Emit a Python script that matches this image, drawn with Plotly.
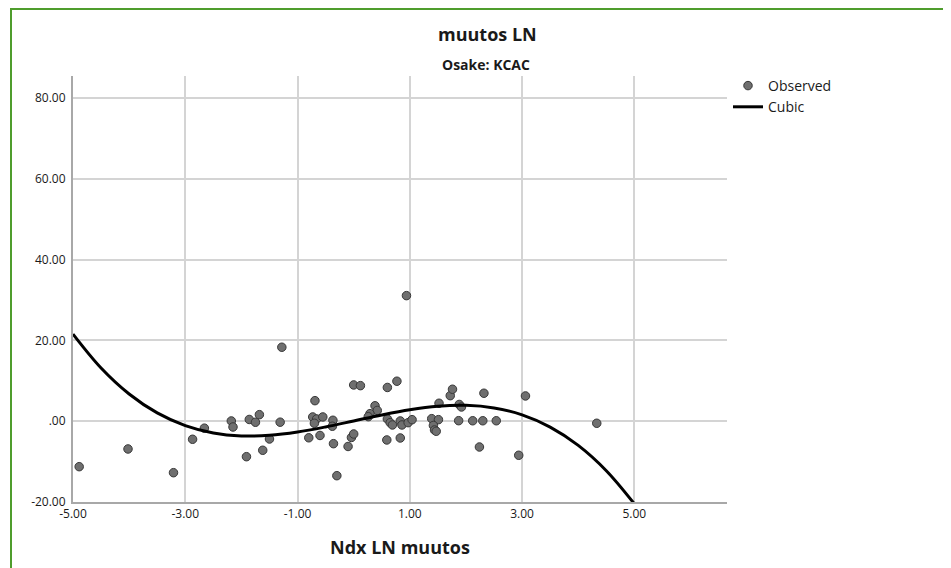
import plotly.graph_objects as go

# Observed points
obs_x = [-4.89, -4.02, -3.21, -2.87, -2.66, -2.18, -2.15, -1.91, -1.86, -1.75,
         -1.68, -1.62, -1.50, -1.31, -1.28, -0.80, -0.69, -0.73, -0.66, -0.55,
         -0.70, -0.37, -0.38, -0.60, -0.36, -0.30, -0.10, -0.04, 0.00, 0.00,
         0.12, 0.38, 0.42, 0.29, 0.26, 0.60, 0.77, 0.60, 0.65, 0.69,
         0.83, 0.86, 0.97, 1.04, 0.59, 0.83, 0.94, 1.39, 1.51, 1.42,
         1.44, 1.47, 1.52, 1.72, 1.76, 1.88, 1.92, 1.87, 2.12, 2.30,
         2.54, 2.32, 2.24, 2.94, 3.06, 4.33]
obs_y = [-11.26, -6.88, -12.75, -4.48, -1.73, 0.05, -1.44, -8.79, 0.42, -0.27,
         1.61, -7.20, -4.41, -0.25, 18.29, -4.11, 5.07, 1.04, 0.54, 1.04,
         -0.52, 0.22, -1.26, -3.54, -5.57, -13.49, -6.26, -4.03, -3.17, 8.96,
         8.79, 3.81, 2.65, 1.86, 1.11, 8.34, 9.88, 0.54, -0.37, -0.94,
         0.05, -0.94, -0.37, 0.37, -4.65, -4.16, 31.06, 0.62, 0.37, -1.06,
         -2.18, -2.50, 4.43, 6.31, 7.90, 4.13, 3.51, 0.12, 0.10, 0.10,
         0.10, 6.91, -6.39, -8.44, 6.24, -0.52]

# Cubic fit curve
curve_x = [-5.0, -4.5, -4.0, -3.5, -3.0, -2.5, -2.0, -1.5, -1.0, -0.5, 0.0,
           0.5, 1.0, 1.5, 2.0, 2.5, 3.0, 3.5, 4.0, 4.5, 5.0]
curve_y = [21.55, 13.16, 6.73, 2.05, -1.09, -2.92, -3.65, -3.50, -2.69, -1.43, 0.05,
           1.54, 2.83, 3.69, 3.91, 3.27, 1.55, -1.46, -5.99, -12.25, -20.45]

x_ticks = [-5, -3, -1, 1, 3, 5]
x_tick_labels = ["-5.00", "-3.00", "-1.00", "1.00", "3.00", "5.00"]
y_ticks = [-20, 0, 20, 40, 60, 80]
y_tick_labels = ["-20.00", ".00", "20.00", "40.00", "60.00", "80.00"]

FONT = "Open Sans, Liberation Sans, sans-serif"
TXT = "#1a1a1a"

# page body has an 8px margin, so the figure is 8px smaller and shifted
OFF = 8
W, H = 951 - OFF, 568 - OFF
L, T = 73 - OFF, 76 - OFF
RIGHT, BOTTOM = 727 - OFF, 502 - OFF
R, B = W - RIGHT, H - BOTTOM
pw, ph = RIGHT - L, BOTTOM - T

def px_x(p):
    return (p - OFF - L) / pw

def px_y(p):
    return 1 + (T - (p - OFF)) / ph

fig = go.Figure()
fig.add_trace(go.Scatter(
    x=obs_x, y=obs_y, mode="markers", name="Observed",
    marker=dict(size=8.5, color="#6f6f6f", line=dict(color="#383838", width=1)),
    cliponaxis=False,
))
fig.add_trace(go.Scatter(
    x=curve_x, y=curve_y, mode="lines", name="Cubic",
    line=dict(color="black", width=3, shape="spline"),
))

fig.update_layout(
    width=W, height=H,
    margin=dict(l=L, r=R, t=T, b=B, pad=0),
    paper_bgcolor="white", plot_bgcolor="white",
    font=dict(family=FONT, size=12, color=TXT),
    showlegend=True,
    legend=dict(x=px_x(728), y=px_y(70), xanchor="left", yanchor="top",
                font=dict(size=14, color=TXT), bgcolor="rgba(0,0,0,0)",
                tracegroupgap=0),
    xaxis=dict(range=[-5, 6.65], tickvals=x_ticks, ticktext=x_tick_labels,
               showgrid=True, gridcolor="#d4d4d4", gridwidth=1.5,
               showline=True, linecolor="#a8a8a8", linewidth=2,
               zeroline=False, ticks="", tickfont=dict(size=12),
               title=dict(text="<b>Ndx LN muutos</b>", font=dict(size=18, color=TXT),
                          standoff=20)),
    yaxis=dict(range=[-20, 85.4], tickvals=y_ticks, ticktext=y_tick_labels,
               showgrid=True, gridcolor="#d4d4d4", gridwidth=1.5,
               showline=True, linecolor="#a8a8a8", linewidth=2,
               zeroline=False, ticks="", tickfont=dict(size=12),
               ticklabelstandoff=3),
    annotations=[
        dict(text="<b>muutos LN</b>", x=px_x(487), y=px_y(34), xref="paper", yref="paper",
             showarrow=False, font=dict(size=18, color=TXT), xanchor="center", yanchor="middle"),
        dict(text="<b>Osake: KCAC</b>", x=px_x(486), y=px_y(65), xref="paper", yref="paper",
             showarrow=False, font=dict(size=14, color=TXT), xanchor="center", yanchor="middle"),
    ],
    shapes=[
        dict(type="rect", xref="paper", yref="paper",
             x0=px_x(11), x1=px_x(970), y0=px_y(590), y1=px_y(9),
             line=dict(color="#4f9d2d", width=2), fillcolor="rgba(0,0,0,0)", layer="above"),
    ],
)

fig.write_html("out.html")
